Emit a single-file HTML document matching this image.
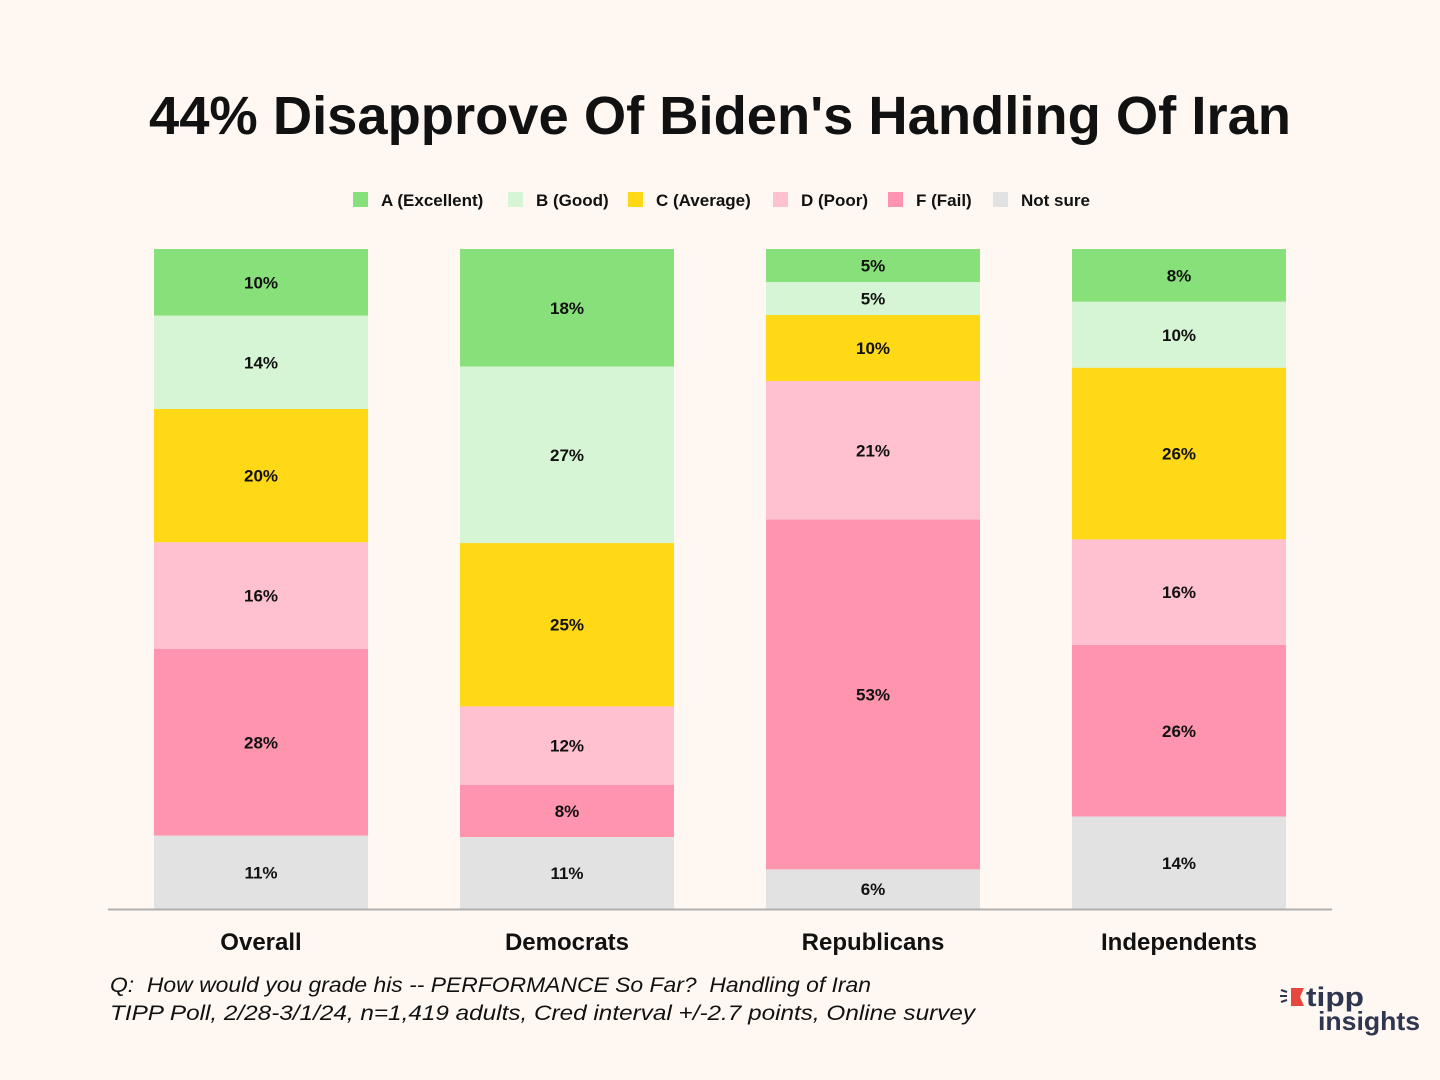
<!DOCTYPE html>
<html><head><meta charset="utf-8"><style>
body{margin:0;background:#FFF7F2;}
svg{display:block;font-family:"Liberation Sans",sans-serif;}
</style></head><body>
<svg id="chart" width="1440" height="1080" viewBox="0 0 1440 1080">
<rect width="1440" height="1080" fill="#FFF7F2"/>
<text x="720" y="134" text-anchor="middle" font-size="54" font-weight="bold" fill="#111" textLength="1142" lengthAdjust="spacingAndGlyphs">44% Disapprove Of Biden's Handling Of Iran</text>
<g id="legend"></g>
<g id="bars"></g>
<line x1="108" y1="909.5" x2="1332" y2="909.5" stroke="#B0B0B0" stroke-width="2"/>
<g id="xlabels"></g>
<text x="110" y="992" font-size="21" font-style="italic" fill="#111" textLength="761" lengthAdjust="spacingAndGlyphs" style="white-space:pre">Q:  How would you grade his -- PERFORMANCE So Far?  Handling of Iran</text>
<text x="110" y="1020" font-size="21" font-style="italic" fill="#111" textLength="865" lengthAdjust="spacingAndGlyphs">TIPP Poll, 2/28-3/1/24, n=1,419 adults, Cred interval +/-2.7 points, Online survey</text>
<g>
<polygon points="1291,988 1304,988 1300,997 1304,1006 1291,1006" fill="#E8473E"/>
<line x1="1281" y1="990" x2="1287" y2="992" stroke="#2E3650" stroke-width="2"/>
<line x1="1280" y1="996" x2="1287" y2="996" stroke="#2E3650" stroke-width="2"/>
<line x1="1281" y1="1002" x2="1287" y2="1000" stroke="#2E3650" stroke-width="2"/>
<text x="1306" y="1006" font-size="27" font-weight="bold" fill="#2E3650" textLength="58" lengthAdjust="spacingAndGlyphs">tipp</text>
<text x="1318" y="1030" font-size="26" font-weight="bold" fill="#2E3650" textLength="102" lengthAdjust="spacingAndGlyphs">insights</text>
</g>
</svg>
<script>
const categories = ["Overall","Democrats","Republicans","Independents"];
const seriesNames = ["A (Excellent)","B (Good)","C (Average)","D (Poor)","F (Fail)","Not sure"];
const seriesA = [10,18,5,8];
const seriesB = [14,27,5,10];
const seriesC = [20,25,10,26];
const seriesD = [16,12,21,16];
const seriesF = [28,8,53,26];
const seriesNotSure = [11,11,6,14];
const colors = ["#88E07A","#D6F5D4","#FFD816","#FFC0CF","#FF94AE","#E2E2E2"];
const series = [seriesA,seriesB,seriesC,seriesD,seriesF,seriesNotSure];
const NS="http://www.w3.org/2000/svg";
const plotTop=249, plotBottom=909, firstX=154, step=306, barW=214;
function xPos(i){return firstX+i*step;}
function yScale(frac){return plotTop+frac*(plotBottom-plotTop);}
function mk(tag,attrs){const e=document.createElementNS(NS,tag);for(const k in attrs)e.setAttribute(k,attrs[k]);return e;}
const barsG=document.getElementById('bars');
categories.forEach((c,i)=>{
  const total=series.reduce((s,a)=>s+a[i],0);
  let cum=0;
  series.forEach((arr,j)=>{
    const v=arr[i];
    const y0=yScale(cum/total), y1=yScale((cum+v)/total);
    cum+=v;
    const r=mk('rect',{x:xPos(i),y:y0,width:barW,height:y1-y0,fill:colors[j]});
    
    
    barsG.appendChild(r);
    const t=mk('text',{x:xPos(i)+barW/2,y:(y0+y1)/2+6,'text-anchor':'middle','font-size':17,'font-weight':'bold',fill:'#111'});
    t.textContent=v+'%';
    
    
    barsG.appendChild(t);
  });
  const l=mk('text',{x:xPos(i)+barW/2,y:950,'text-anchor':'middle','font-size':24,'font-weight':'bold',fill:'#111'});
  l.textContent=c;
  
  
  document.getElementById('xlabels').appendChild(l);
});
const legX=[353,508,628,773,888,993];
const legG=document.getElementById('legend');
seriesNames.forEach((n,j)=>{
  const g=mk('g',{});
  
  
  g.appendChild(mk('rect',{x:legX[j],y:192,width:15,height:15,fill:colors[j]}));
  const t=mk('text',{x:legX[j]+28,y:206,'font-size':17,'font-weight':'bold',fill:'#111'});
  t.textContent=n;
  g.appendChild(t);
  legG.appendChild(g);
});
</script>
</body></html>
